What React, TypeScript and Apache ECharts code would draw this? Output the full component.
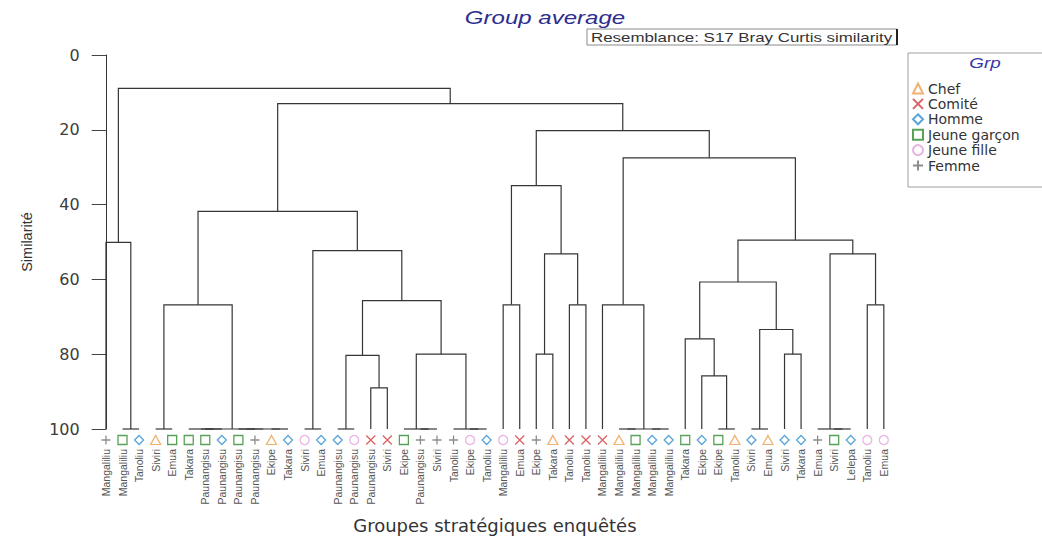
import { useEffect, useRef } from 'react';
import * as echarts from 'echarts';

// Respondent groups, their marker colours and shapes
const groups = ['Chef', 'Comité', 'Homme', 'Jeune garçon', 'Jeune fille', 'Femme'];
const groupColors = ['#ee9f4e', '#d23b3b', '#2f8fd0', '#2e8b2e', '#e6a2da', '#707070'];
const groupSymbols = [
  'triangle',
  'path://M0,0L10,10M10,0L0,10',
  'diamond',
  'rect',
  'circle',
  'path://M5,0L5,10M0,5L10,5',
];

// Leaves of the dendrogram, left to right
const leafNames = [
  'Mangaliliu', 'Mangaliliu', 'Tanoliu', 'Siviri', 'Emua', 'Takara',
  'Paunangisu', 'Paunangisu', 'Paunangisu', 'Paunangisu', 'Ekipe', 'Takara',
  'Siviri', 'Emua', 'Paunangisu', 'Paunangisu', 'Paunangisu', 'Siviri',
  'Ekipe', 'Paunangisu', 'Siviri', 'Tanoliu', 'Ekipe', 'Tanoliu',
  'Mangaliliu', 'Emua', 'Ekipe', 'Takara', 'Tanoliu', 'Tanoliu',
  'Mangaliliu', 'Mangaliliu', 'Mangaliliu', 'Mangaliliu', 'Mangaliliu', 'Takara',
  'Ekipe', 'Ekipe', 'Tanoliu', 'Siviri', 'Emua', 'Siviri',
  'Takara', 'Emua', 'Siviri', 'Lelepa', 'Tanoliu', 'Emua',
];

// Group index (into groups) of every leaf
const leafGroups = [
  5, 3, 2, 0, 3, 3,
  3, 2, 3, 5, 0, 2,
  4, 2, 2, 4, 1, 1,
  3, 5, 5, 5, 4, 2,
  4, 1, 5, 0, 1, 1,
  1, 0, 3, 2, 2, 3,
  2, 3, 0, 2, 0, 2,
  2, 5, 3, 2, 4, 4,
];

// Agglomeration steps: [node id, left child, right child, similarity %]
// numbers are leaf indices, strings refer to nodes defined earlier
type Ref = number | string;
const merges: [string, Ref, Ref, number][] = [
  ['a1', 1, 2, 100],
  ['A', 0, 'a1', 50.1],
  ['b1', 3, 4, 100],
  ['b2', 6, 7, 100],
  ['b3', 5, 'b2', 100],
  ['b4', 8, 9, 100],
  ['b5', 10, 11, 100],
  ['b6', 'b4', 'b5', 100],
  ['b7', 'b3', 'b6', 100],
  ['D', 'b1', 'b7', 66.8],
  ['e1', 12, 13, 100],
  ['g1', 14, 15, 100],
  ['H', 16, 17, 89],
  ['G', 'g1', 'H', 80.3],
  ['i1', 19, 20, 100],
  ['i2', 18, 'i1', 100],
  ['i3', 22, 23, 100],
  ['i4', 21, 'i3', 100],
  ['I', 'i2', 'i4', 80],
  ['F', 'G', 'I', 65.7],
  ['E', 'e1', 'F', 52.3],
  ['C', 'D', 'E', 41.8],
  ['L', 24, 25, 66.8],
  ['N', 26, 27, 80],
  ['O', 28, 29, 66.8],
  ['M', 'N', 'O', 53.2],
  ['K', 'L', 'M', 34.9],
  ['q1', 31, 32, 100],
  ['q2', 33, 34, 100],
  ['q3', 'q1', 'q2', 100],
  ['Q', 30, 'q3', 66.8],
  ['u1', 37, 38, 100],
  ['U', 36, 'u1', 85.8],
  ['T', 35, 'U', 75.9],
  ['v1', 39, 40, 100],
  ['W', 41, 42, 80],
  ['V', 'v1', 'W', 73.4],
  ['S', 'T', 'V', 60.7],
  ['x1', 44, 45, 100],
  ['x2', 43, 'x1', 100],
  ['Y', 46, 47, 66.8],
  ['X', 'x2', 'Y', 53.2],
  ['R', 'S', 'X', 49.5],
  ['P', 'Q', 'R', 27.5],
  ['J', 'K', 'P', 20.2],
  ['B', 'C', 'J', 13],
  ['root', 'A', 'B', 8.9],
];

const yTicks = [0, 20, 40, 60, 80, 100];

// Each merge becomes a bracket: left foot, shared bar, right foot
function buildLinks() {
  const pos: Record<string, number> = {};
  const hgt: Record<string, number> = {};
  const at = (r: Ref): [number, number] =>
    typeof r === 'number' ? [r, 100] : [pos[r], hgt[r]];
  return merges.map(([id, l, r, h]) => {
    const [xl, hl] = at(l);
    const [xr, hr] = at(r);
    pos[id] = (xl + xr) / 2;
    hgt[id] = h;
    return [xl, hl, xr, hr, h];
  });
}

const ARIAL = '"Liberation Sans", Arial, sans-serif';

function buildOption(): echarts.EChartsOption {
  const links = buildLinks();
  const gridLeft = 97.7;
  const gridWidth = 794.4;

  const markerSeries = groups.map((g, gi) => ({
    type: 'scatter' as const,
    name: g,
    xAxisIndex: 0,
    yAxisIndex: 0,
    symbol: groupSymbols[gi],
    symbolSize: gi === 0 ? [10, 9] : 9,
    symbolOffset: [0, 11],
    clip: false,
    silent: true,
    emphasis: { disabled: true },
    itemStyle: { color: 'transparent', borderColor: groupColors[gi], borderWidth: 1.3 },
    data: leafGroups
      .map((lg, i) => (lg === gi ? [i, 100] : null))
      .filter((d) => d !== null),
    z: 3,
  }));

  return {
    animation: false,
    backgroundColor: '#ffffff',
    grid: { left: gridLeft, top: 55, width: gridWidth, height: 379 },
    xAxis: [
      {
        type: 'category',
        data: leafNames,
        boundaryGap: true,
        axisLine: { show: false },
        axisTick: { show: false },
        axisLabel: {
          interval: 0,
          rotate: 90,
          margin: 20,
          fontSize: 10.5,
          fontFamily: ARIAL,
          color: '#555',
        },
        name: 'Groupes stratégiques enquêtés',
        nameLocation: 'middle',
        nameGap: 87,
        nameTextStyle: { fontFamily: 'DejaVu Sans', fontSize: 18, color: '#333' },
        splitLine: { show: false },
      },
      {
        type: 'value',
        min: -0.5,
        max: leafNames.length - 0.5,
        show: false,
      },
    ],
    yAxis: [
      {
        type: 'value',
        position: 'left',
        inverse: true,
        min: 0,
        max: 100,
        interval: 20,
        offset: 6,
        axisLine: { show: true, lineStyle: { color: '#333', width: 1 } },
        axisTick: { show: true, inside: false, length: 7, lineStyle: { color: '#444' } },
        axisLabel: {
          margin: 12,
          fontFamily: 'DejaVu Sans',
          fontSize: 16,
          color: '#3c3c3c',
          customValues: yTicks,
        },
        splitLine: { show: false },
        name: 'Similarité',
        nameLocation: 'middle',
        nameGap: 57,
        nameRotate: 90,
        nameTextStyle: { fontFamily: ARIAL, fontSize: 14.5, color: '#333' },
      },
      {
        type: 'value',
        position: 'left',
        inverse: true,
        min: 0,
        max: 100,
        interval: 20,
        offset: 6,
        axisLine: { show: false },
        axisTick: { show: true, inside: true, length: 8, lineStyle: { color: '#444' } },
        axisLabel: { show: false },
        splitLine: { show: false },
      },
    ],
    legend: {
      orient: 'vertical',
      left: 907,
      top: 76,
      itemWidth: 10,
      itemHeight: 10,
      itemGap: 0.4,
      selectedMode: false,
      data: groups,
      textStyle: { fontFamily: 'DejaVu Sans', fontSize: 14, color: '#333', lineHeight: 15 },
    },
    graphic: [
      {
        type: 'text',
        x: 545,
        y: 18,
        scaleX: 1.3,
        style: {
          text: 'Group average',
          fontFamily: ARIAL,
          fontSize: 18.5,
          fontStyle: 'italic',
          fill: '#2d2d8f',
          align: 'center',
          verticalAlign: 'middle',
          textAlign: 'center',
          textVerticalAlign: 'middle',
        } as any,
      },
      {
        type: 'rect',
        shape: { x: 587, y: 29, width: 310, height: 16 },
        style: { fill: '#fff', stroke: '#8a8a8a', lineWidth: 1 },
      },
      {
        type: 'line',
        shape: { x1: 897, y1: 29, x2: 897, y2: 45 },
        style: { stroke: '#222', lineWidth: 2 },
      },
      {
        type: 'text',
        x: 591,
        y: 37.5,
        scaleX: 1.3,
        style: {
          text: 'Resemblance: S17 Bray Curtis similarity',
          fontFamily: ARIAL,
          fontSize: 13,
          fill: '#333',
          align: 'left',
          verticalAlign: 'middle',
          textAlign: 'left',
          textVerticalAlign: 'middle',
        } as any,
      },
      {
        type: 'rect',
        shape: { x: 908, y: 53, width: 200, height: 134 },
        style: { fill: '#fff', stroke: '#a0a0a0', lineWidth: 1 },
        z: -1,
      },
      {
        type: 'text',
        x: 985,
        y: 63,
        scaleX: 1.3,
        style: {
          text: 'Grp',
          fontFamily: ARIAL,
          fontSize: 14.5,
          fontStyle: 'italic',
          fill: '#3535a8',
          align: 'center',
          verticalAlign: 'middle',
          textAlign: 'center',
          textVerticalAlign: 'middle',
        } as any,
      },
    ],
    series: [
      {
        type: 'custom',
        name: 'dendrogram',
        xAxisIndex: 1,
        yAxisIndex: 0,
        silent: true,
        clip: false,
        data: links,
        encode: { x: [0, 2], y: [1, 3, 4] },
        renderItem: (_params: any, api: any) => {
          const xl = api.value(0);
          const hl = api.value(1);
          const xr = api.value(2);
          const hr = api.value(3);
          const h = api.value(4);
          return {
            type: 'polyline',
            shape: {
              points: [
                api.coord([xl, hl]),
                api.coord([xl, h]),
                api.coord([xr, h]),
                api.coord([xr, hr]),
              ],
            },
            style: { stroke: '#363636', lineWidth: 1.2, fill: 'none' },
          };
        },
        z: 2,
      },
      ...markerSeries,
    ] as any,
  };
}

export default function App() {
  const ref = useRef<HTMLDivElement>(null);
  useEffect(() => {
    if (!ref.current) return;
    const chart = echarts.init(ref.current, null, { renderer: 'svg' });
    chart.setOption(buildOption());
    return () => chart.dispose();
  }, []);
  return (
    <div
      ref={ref}
      style={{ position: 'absolute', left: 0, top: 0, width: 1042, height: 539, background: '#fff' }}
    />
  );
}
